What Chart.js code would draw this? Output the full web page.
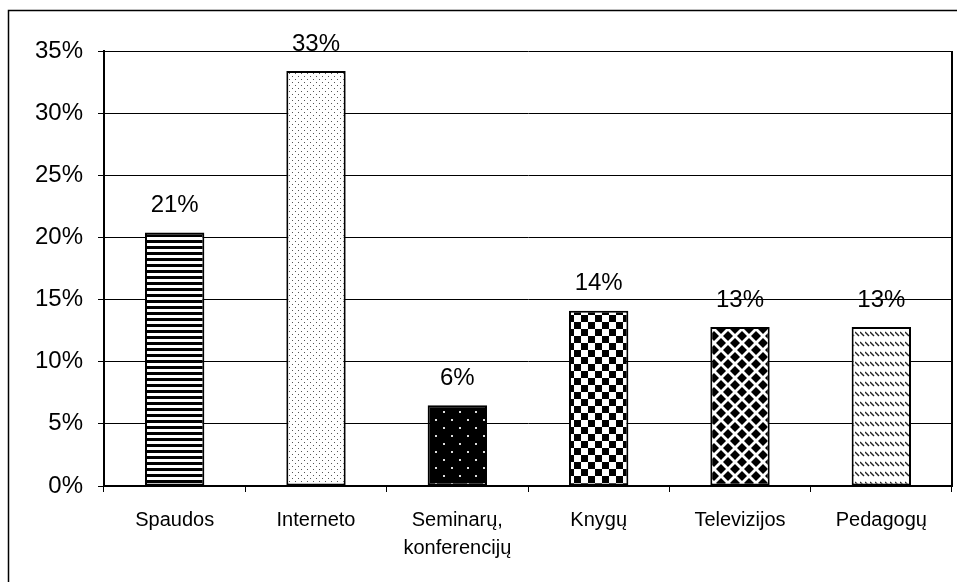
<!DOCTYPE html>
<html lang="lt">
<head>
    <meta charset="UTF-8">
    <title>Informacijos šaltiniai</title>
    <script src="https://cdn.jsdelivr.net/npm/chart.js"></script>
    <style>
        html, body { margin: 0; padding: 0; background: #fff; }
        .chart-box { position: absolute; left: 0; top: 0; width: 957px; height: 582px; }
    </style>
</head>
<body>
    <div class="chart-box">
        <canvas id="sources-chart"></canvas>
    </div>

    <script>
        // values
        const categories = ['Spaudos', 'Interneto', ['Seminarų,', 'konferencijų'], 'Knygų', 'Televizijos', 'Pedagogų'];
        const shares = [20.4, 33.4, 6.5, 14.1, 12.8, 12.8];
        const shareLabels = ['21%', '33%', '6%', '14%', '13%', '13%'];
        const yTicks = [0, 5, 10, 15, 20, 25, 30, 35];

        const FONT = '"Liberation Sans", Arial, sans-serif';

        // small tiles for the bar fills
        function makeTile(w, h, draw) {
            const c = document.createElement('canvas');
            c.width = w;
            c.height = h;
            const g = c.getContext('2d');
            g.fillStyle = '#fff';
            g.fillRect(0, 0, w, h);
            draw(g);
            return document.createElement('canvas').getContext('2d').createPattern(c, 'repeat');
        }

        const fills = [
            makeTile(6, 6, g => { g.fillStyle = '#000'; g.fillRect(0, 0, 6, 3); }),
            makeTile(6, 6, g => {
                g.fillStyle = '#555';
                g.fillRect(1, 1, 1, 1);
                g.fillRect(4, 4, 1, 1);
            }),
            makeTile(16, 16, g => {
                g.fillStyle = '#000';
                g.fillRect(0, 0, 16, 16);
                g.fillStyle = '#ddd';
                g.fillRect(3, 3, 2, 2);
                g.fillRect(11, 11, 2, 2);
            }),
            makeTile(14, 14, g => {
                g.fillStyle = '#000';
                g.fillRect(0, 0, 7, 7);
                g.fillRect(7, 7, 7, 7);
            }),
            makeTile(14, 14, g => {
                g.fillStyle = '#000';
                const diamond = (cx, cy) => {
                    g.beginPath();
                    g.moveTo(cx, cy - 5);
                    g.lineTo(cx + 5, cy);
                    g.lineTo(cx, cy + 5);
                    g.lineTo(cx - 5, cy);
                    g.closePath();
                    g.fill();
                };
                diamond(7, 7);
                diamond(0, 0); diamond(14, 0); diamond(0, 14); diamond(14, 14);
            }),
            makeTile(5, 10, g => {
                g.strokeStyle = '#222';
                g.lineWidth = 1.4;
                g.beginPath();
                g.moveTo(0, 2);
                g.lineTo(4, 6);
                g.stroke();
            })
        ];

        // outer frame, right edge of the plot and value labels
        const decorations = {
            id: 'decorations',
            afterDraw(chart) {
                const ctx = chart.ctx;
                const area = chart.chartArea;
                ctx.save();
                ctx.strokeStyle = '#000';
                ctx.lineWidth = 1.5;
                ctx.beginPath();
                ctx.moveTo(8.5, chart.height);
                ctx.lineTo(8.5, 10.5);
                ctx.lineTo(chart.width, 10.5);
                ctx.stroke();

                ctx.lineWidth = 2;
                ctx.beginPath();
                ctx.moveTo(area.right, area.top);
                ctx.lineTo(area.right, area.bottom);
                ctx.stroke();

                ctx.fillStyle = '#000';
                ctx.font = '24px ' + FONT;
                ctx.textAlign = 'center';
                ctx.textBaseline = 'middle';
                chart.getDatasetMeta(0).data.forEach((bar, i) => {
                    ctx.fillText(shareLabels[i], bar.x, bar.y - 27);
                });
                ctx.restore();
            }
        };

        document.addEventListener('DOMContentLoaded', () => {
            const ctx = document.getElementById('sources-chart').getContext('2d');
            new Chart(ctx, {
                type: 'bar',
                data: {
                    labels: categories,
                    datasets: [{
                        data: shares,
                        backgroundColor: fills,
                        borderColor: '#000',
                        borderWidth: 2,
                        borderSkipped: false,
                        categoryPercentage: 1,
                        barPercentage: 0.42
                    }]
                },
                options: {
                    responsive: true,
                    maintainAspectRatio: false,
                    animation: false,
                    layout: { padding: { top: 51, right: 5, left: 0, bottom: 0 } },
                    scales: {
                        x: {
                            grid: { offset: true, drawOnChartArea: false, drawTicks: true, tickLength: 6, color: '#000' },
                            border: { display: true, color: '#000', width: 2 },
                            ticks: {
                                color: '#000',
                                padding: 14,
                                maxRotation: 0,
                                font: { family: FONT, size: 20, lineHeight: 1.4 }
                            },
                            afterFit: scale => { scale.height = 96; }
                        },
                        y: {
                            min: 0,
                            max: 35,
                            afterBuildTicks: scale => { scale.ticks = yTicks.map(v => ({ value: v })); },
                            grid: { color: '#000', lineWidth: 1, tickLength: 6 },
                            border: { display: true, color: '#000', width: 2 },
                            ticks: {
                                color: '#000',
                                padding: 15,
                                font: { family: FONT, size: 24 },
                                callback: v => v + '%'
                            },
                            afterFit: scale => { scale.width = 104; }
                        }
                    },
                    plugins: {
                        legend: { display: false },
                        tooltip: { enabled: false }
                    }
                },
                plugins: [decorations]
            });
        });
    </script>
</body>
</html>
